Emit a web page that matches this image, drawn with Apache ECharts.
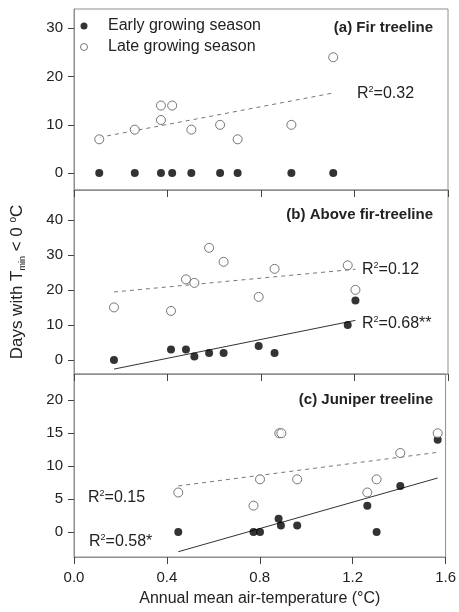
<!DOCTYPE html>
<html>
<head>
<meta charset="utf-8">
<script src="https://cdn.jsdelivr.net/npm/echarts@6/dist/echarts.min.js"></script>
<style>
  html, body { margin: 0; padding: 0; background: #fff; }
  #chart { width: 459px; height: 612px; }
</style>
</head>
<body>
<div id="chart"></div>
<script>
// x = annual mean air-temperature (°C), y = days with Tmin < 0 °C

// (a) Fir treeline
let firEarly = [[0.108, 0], [0.26, 0], [0.372, 0], [0.42, 0], [0.502, 0], [0.625, 0], [0.70, 0], [0.93, 0], [1.109, 0]];
let firLate = [[0.108, 7], [0.26, 9], [0.372, 14], [0.372, 11], [0.42, 14], [0.502, 9], [0.625, 10], [0.70, 7], [0.93, 10], [1.109, 24]];
let firLateTrend = [[0.108, 7.4], [1.109, 16.6]];

// (b) Above fir-treeline
let aboveEarly = [[0.171, 0], [0.415, 3], [0.479, 3], [0.515, 1], [0.578, 2], [0.64, 2], [0.79, 4], [0.858, 2], [1.171, 10], [1.204, 17]];
let aboveLate = [[0.171, 15], [0.415, 14], [0.479, 23], [0.515, 22], [0.578, 32], [0.64, 28], [0.79, 18], [0.858, 26], [1.171, 27], [1.204, 20]];
let aboveEarlyTrend = [[0.171, -2.6], [1.204, 11.3]];
let aboveLateTrend = [[0.171, 19.4], [1.204, 25.9]];

// (c) Juniper treeline
let junEarly = [[0.449, 0], [0.773, 0], [0.801, 0], [0.881, 2], [0.891, 1], [0.961, 1], [1.263, 4], [1.303, 0], [1.405, 7], [1.566, 14]];
let junLate = [[0.449, 6], [0.773, 4], [0.801, 8], [0.884, 15], [0.893, 15], [0.961, 8], [1.263, 6], [1.303, 8], [1.405, 12], [1.566, 15]];
let junEarlyTrend = [[0.449, -3.0], [1.566, 8.2]];
let junLateTrend = [[0.449, 7.0], [1.566, 12.1]];

let yTicksA = [0, 10, 20, 30];
let yTicksB = [0, 10, 20, 30, 40];
let yTicksC = [0, 5, 10, 15, 20];

let panelTitles = ['(a) Fir treeline', '(b) Above fir-treeline', '(c) Juniper treeline'];

const FONT = '"Liberation Sans", Arial, sans-serif';
const frameColor = '#8f8f8f';
const tickColor = '#444';

function xAxis(idx, showLabels) {
    return {
        type: 'value',
        gridIndex: idx,
        min: 0,
        max: 1.6,
        interval: 0.4,
        axisLine: { show: true, onZero: false, lineStyle: { color: frameColor, width: 1 } },
        axisTick: { show: true, length: 7, lineStyle: { color: tickColor } },
        splitLine: { show: false },
        axisLabel: {
            show: showLabels,
            margin: 13,
            color: '#222',
            fontFamily: FONT,
            fontSize: 15,
            formatter: function (v) { return v.toFixed(1); },
        },
        name: showLabels ? 'Annual mean air-temperature (°C)' : '',
        nameLocation: 'middle',
        nameGap: 34,
        nameTextStyle: { color: '#222', fontFamily: FONT, fontSize: 16 },
    };
}

function yAxis(idx, min, max, ticks) {
    return {
        type: 'value',
        gridIndex: idx,
        min: min,
        max: max,
        axisLine: { show: true, onZero: false, lineStyle: { color: frameColor, width: 1 } },
        axisTick: { show: true, length: 6, customValues: ticks, lineStyle: { color: tickColor } },
        splitLine: { show: false },
        axisLabel: {
            margin: 11,
            color: '#222',
            fontFamily: FONT,
            fontSize: 15,
            customValues: ticks,
        },
    };
}

function scatter(name, idx, data, filled) {
    return {
        name: name,
        type: 'scatter',
        xAxisIndex: idx,
        yAxisIndex: idx,
        data: data,
        symbol: 'circle',
        symbolSize: filled ? 8 : 9,
        itemStyle: filled
            ? { color: '#000', borderColor: '#000', borderWidth: 0 }
            : { color: '#fff', borderColor: '#555', borderWidth: 1 },
        silent: true,
        z: 3,
    };
}

function trend(idx, data, dashed) {
    return {
        type: 'line',
        xAxisIndex: idx,
        yAxisIndex: idx,
        data: data,
        symbol: 'none',
        silent: true,
        lineStyle: dashed
            ? { color: '#777', width: 1, type: [4, 4] }
            : { color: '#333', width: 1 },
        z: 2,
    };
}

let yName = {
    name: 'Days with T{sub|min} < 0 {sup|o}C',
    nameLocation: 'middle',
    nameGap: 47,
    nameTextStyle: {
        color: '#222',
        fontFamily: FONT,
        fontSize: 17,
        rich: {
            sub: { fontFamily: FONT, fontSize: 9, color: '#222', padding: [10, 0, 0, 0] },
            sup: { fontFamily: FONT, fontSize: 10, color: '#222', padding: [0, 0, 8, 0] },
        },
    },
};

let yAxes = [
    yAxis(0, -3.5, 34, yTicksA),
    Object.assign(yAxis(1, -4, 48.5, yTicksB), yName),
    yAxis(2, -3.8, 24, yTicksC),
];

function annot(x, y, text) {
    return {
        type: 'text',
        left: x,
        top: y,
        silent: true,
        style: {
            text: text,
            fill: '#222',
            font: '16px ' + FONT,
            rich: {
                sup: { fontFamily: FONT, fontSize: 9, fill: '#222', padding: [0, 0, 9, 0] },
            },
        },
    };
}

let chart = echarts.init(document.getElementById('chart'), null, { renderer: 'canvas' });

let option = {
    backgroundColor: '#fff',
    animation: false,
    title: panelTitles.map(function (t, i) {
        return {
            text: t,
            right: 26,
            top: [20, 207, 392][i],
            padding: 0,
            textStyle: { fontFamily: FONT, fontSize: 15, fontWeight: 'bold', color: '#222' },
        };
    }),
    legend: {
        orient: 'vertical',
        left: 80,
        top: 18,
        itemWidth: 38,
        itemHeight: 7,
        itemGap: 5,
        padding: 0,
        selectedMode: false,
        data: [
            { name: 'Early growing season', icon: 'circle', itemStyle: { color: '#000', borderWidth: 0 } },
            { name: 'Late growing season', icon: 'circle', itemStyle: { color: '#fff', borderColor: '#555', borderWidth: 1 } },
        ],
        textStyle: { fontFamily: FONT, fontSize: 16, color: '#222' },
    },
    grid: [
        { left: 74, right: 11, top: 9, height: 181, show: true, borderColor: frameColor, borderWidth: 1, backgroundColor: 'transparent' },
        { left: 74, right: 11, top: 190, height: 184, show: true, borderColor: frameColor, borderWidth: 1, backgroundColor: 'transparent' },
        { left: 74, right: 11, top: 374, height: 183, show: true, borderColor: frameColor, borderWidth: 1, backgroundColor: 'transparent' },
    ],
    xAxis: [xAxis(0, false), xAxis(1, false), xAxis(2, true)],
    yAxis: yAxes,
    graphic: [
        annot(357, 85, 'R{sup|2}=0.32'),
        annot(362, 261, 'R{sup|2}=0.12'),
        annot(362, 315, 'R{sup|2}=0.68**'),
        annot(88, 489, 'R{sup|2}=0.15'),
        annot(89, 533, 'R{sup|2}=0.58*'),
    ],
    series: [
        trend(0, firLateTrend, true),
        scatter('Early growing season', 0, firEarly, true),
        scatter('Late growing season', 0, firLate, false),

        trend(1, aboveLateTrend, true),
        trend(1, aboveEarlyTrend, false),
        scatter('Early growing season', 1, aboveEarly, true),
        scatter('Late growing season', 1, aboveLate, false),

        trend(2, junLateTrend, true),
        trend(2, junEarlyTrend, false),
        scatter('Early growing season', 2, junEarly, true),
        scatter('Late growing season', 2, junLate, false),
    ],
};

chart.setOption(option);
</script>
</body>
</html>
